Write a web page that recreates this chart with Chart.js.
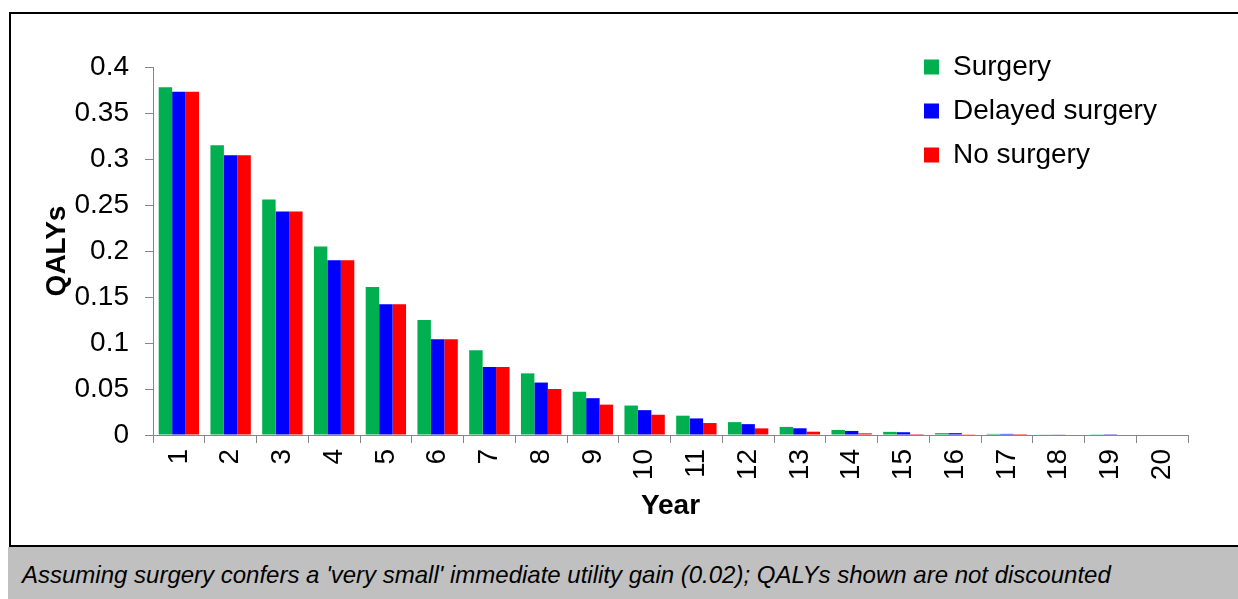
<!DOCTYPE html>
<html>
<head>
<meta charset="utf-8">
<script src="https://cdn.jsdelivr.net/npm/chart.js@4"></script>
<style>
  body { margin: 0; background: #fff; font-family: "Liberation Sans", Arial, sans-serif; }
  #box { position: absolute; left: 9px; top: 12px; width: 1240px; height: 535px; border: 2px solid #000; border-right: none; box-sizing: border-box; }
  #caption { position: absolute; left: 8px; top: 547px; width: 1230px; height: 52px; background: #c0c0c0; }
  #caption span { position: absolute; left: 14px; top: 14px; font-style: italic; font-size: 24px; color: #000; white-space: nowrap; }
  #wrap { position: absolute; left: 0; top: 0; width: 1238px; height: 545px; }
</style>
</head>
<body>
<div id="box"></div>
<div id="caption"><span>Assuming surgery confers a 'very small' immediate utility gain (0.02); QALYs shown are not discounted</span></div>
<div id="wrap"><canvas id="myChart" width="1238" height="545"></canvas></div>
<script>
const years = ['1', '2', '3', '4', '5', '6', '7', '8', '9', '10', '11', '12', '13', '14', '15', '16', '17', '18', '19', '20'];
const surgery = [0.378, 0.315, 0.256, 0.205, 0.161, 0.125, 0.092, 0.067, 0.047, 0.032, 0.021, 0.014, 0.0088, 0.0055, 0.0034, 0.002, 0.0012, 0.0007, 0.0003, 0];
const delayed = [0.373, 0.304, 0.243, 0.190, 0.142, 0.104, 0.074, 0.057, 0.040, 0.027, 0.018, 0.0118, 0.0073, 0.0044, 0.003, 0.002, 0.0012, 0.0007, 0.0002, 0];
const noSurgery = [0.373, 0.304, 0.243, 0.190, 0.142, 0.104, 0.074, 0.050, 0.033, 0.022, 0.013, 0.0072, 0.0036, 0.0018, 0.001, 0.0003, 0.0001, 0, 0, 0];
const yTicks = [0, 0.05, 0.1, 0.15, 0.2, 0.25, 0.3, 0.35, 0.4];

const axisGrey = '#868686';
const font = 'Liberation Sans';

// move the legend into the plot, top right like the original
const legendSpot = {
    id: 'legendSpot',
    afterLayout(chart) {
        const lg = chart.legend;
        lg.left = 908;
        lg.top = 37;
        lg.right = lg.left + lg.width;
        lg.bottom = lg.top + 160;
    }
};

const ctx = document.getElementById('myChart').getContext('2d');
const myChart = new Chart(ctx, {
    type: 'bar',
    data: {
        labels: years,
        datasets: [
            { label: 'Surgery', data: surgery, backgroundColor: '#00b050', borderWidth: 0 },
            { label: 'Delayed surgery', data: delayed, backgroundColor: '#0000ff', borderWidth: 0 },
            { label: 'No surgery', data: noSurgery, backgroundColor: '#ff0000', borderWidth: 0 }
        ]
    },
    options: {
        responsive: false,
        animation: false,
        categoryPercentage: 0.78,
        barPercentage: 1,
        layout: { padding: { top: 67, right: 50, bottom: 0, left: 0 } },
        plugins: {
            tooltip: { enabled: false },
            legend: {
                position: 'chartArea',
                align: 'start',
                labels: {
                    boxWidth: 15,
                    boxHeight: 15,
                    padding: 16,
                    color: '#000',
                    font: { family: font, size: 28 }
                }
            }
        },
        scales: {
            x: {
                afterFit: s => { s.height = 110; },
                grid: { drawOnChartArea: false, color: axisGrey, tickLength: 8 },
                border: { color: axisGrey, width: 1 },
                ticks: { color: '#000', font: { family: font, size: 28 }, minRotation: 90, maxRotation: 90, padding: 6 },
                title: { display: true, text: 'Year', color: '#000', font: { family: font, size: 28, weight: 'bold' }, padding: { top: 0, bottom: 22 } }
            },
            y: {
                min: 0,
                max: 0.4,
                afterFit: s => { s.width = 153; },
                afterBuildTicks: s => { s.ticks = yTicks.map(v => ({ value: v })); },
                grid: { drawOnChartArea: false, color: axisGrey, tickLength: 8 },
                border: { color: axisGrey, width: 1 },
                ticks: {
                    color: '#000',
                    padding: 16,
                    font: { family: font, size: 28 },
                    callback: v => String(+v.toFixed(2))
                },
                title: { display: true, text: 'QALYs', color: '#000', font: { family: font, size: 28, weight: 'bold' }, padding: { top: 40, bottom: 0 } }
            }
        }
    },
    plugins: [legendSpot]
});
</script>
</body>
</html>
